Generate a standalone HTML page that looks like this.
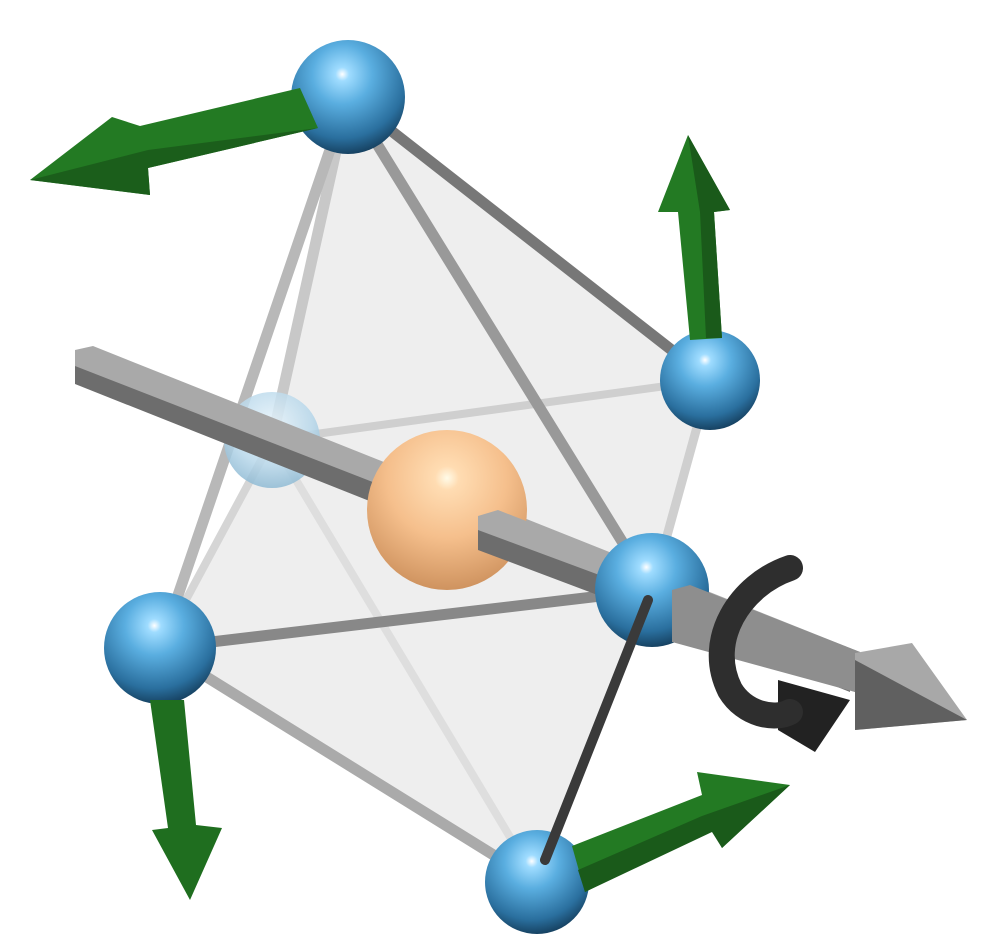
<!DOCTYPE html>
<html><head><meta charset="utf-8"><style>
html,body{margin:0;padding:0;background:#fff;}
svg{display:block}
</style></head><body>
<svg width="988" height="942" viewBox="0 0 988 942" xmlns="http://www.w3.org/2000/svg">
<defs>
<radialGradient id="blue" cx="0.45" cy="0.3" r="0.75">
<stop offset="0" stop-color="#ffffff"/><stop offset="0.08" stop-color="#9fdcff"/><stop offset="0.35" stop-color="#5aaee0"/><stop offset="0.75" stop-color="#2a6f9e"/><stop offset="1" stop-color="#10334e"/></radialGradient>
<radialGradient id="orange" cx="0.5" cy="0.3" r="0.75">
<stop offset="0" stop-color="#fffbe8"/><stop offset="0.1" stop-color="#ffdcb2"/><stop offset="0.5" stop-color="#f5bf8c"/><stop offset="1" stop-color="#c98c58"/></radialGradient>
<radialGradient id="fade" cx="0.5" cy="0.35" r="0.7">
<stop offset="0" stop-color="#e8f4fb"/><stop offset="0.6" stop-color="#b7d7ea"/><stop offset="1" stop-color="#86b4cf"/></radialGradient>
</defs>

<polygon points="348,97 710,380 652,590 537,882 160,648 272,440" fill="#ececec" opacity="0.9"/>

<g stroke-linecap="round">
<line x1="272" y1="440" x2="710" y2="380" stroke="#cfcfcf" stroke-width="8"/>
<line x1="272" y1="440" x2="537" y2="882" stroke="#dedede" stroke-width="8"/>
<line x1="272" y1="440" x2="160" y2="648" stroke="#d5d5d5" stroke-width="8"/>
<line x1="348" y1="97" x2="272" y2="440" stroke="#c8c8c8" stroke-width="11"/>
<line x1="348" y1="97" x2="160" y2="648" stroke="#b8b8b8" stroke-width="11"/>
<line x1="348" y1="97" x2="710" y2="380" stroke="#777" stroke-width="11"/>
<line x1="348" y1="97" x2="652" y2="590" stroke="#999" stroke-width="11"/>
<line x1="710" y1="380" x2="652" y2="590" stroke="#cfcfcf" stroke-width="9"/>
<line x1="160" y1="648" x2="652" y2="590" stroke="#888" stroke-width="11"/>
<line x1="160" y1="648" x2="537" y2="882" stroke="#aaa" stroke-width="11"/>
</g>

<circle cx="272" cy="440" r="48" fill="url(#fade)" opacity="0.85"/>

<g>
<polygon points="75,350 93,346 860,652 850,690 75,382" fill="#a9a9a9"/>
<polygon points="75,366 850,668 850,692 75,384" fill="#6d6d6d"/>
<circle cx="447" cy="510" r="80" fill="url(#orange)"/>
<polygon points="478,516 498,510 860,652 855,688 478,546" fill="#a9a9a9"/>
<polygon points="478,530 855,670 855,692 478,550" fill="#6d6d6d"/>
</g>

<circle cx="348" cy="97" r="57" fill="url(#blue)"/>
<circle cx="710" cy="380" r="50" fill="url(#blue)"/>
<circle cx="652" cy="590" r="57" fill="url(#blue)"/>
<polygon points="672,590 690,585 860,652 855,692 672,642" fill="#8e8e8e"/>
<polygon points="855,653 912,643 967,720 855,730" fill="#a8a8a8"/>
<polygon points="855,660 967,720 855,730" fill="#606060"/>
<circle cx="160" cy="648" r="56" fill="url(#blue)"/>
<circle cx="537" cy="882" r="52" fill="url(#blue)"/>
<line x1="648" y1="600" x2="545" y2="860" stroke="#3a3a3a" stroke-width="10" stroke-linecap="round"/>

<g>
<polygon points="778,680 850,700 815,752 778,730" fill="#222"/>
<path d="M790,568 C740,585 705,640 730,690 C745,715 775,720 790,712" fill="none" stroke="#2e2e2e" stroke-width="26" stroke-linecap="round"/>
</g>

<g>
<polygon points="300,88 318,128 148,168 150,195 30,180 112,117 140,126" fill="#237a23"/>
<polygon points="318,128 148,168 150,195 30,180 148,150" fill="#1b5e1b"/>
<polygon points="678,212 658,212 688,135 730,210 714,212 722,338 690,340" fill="#237a23"/>
<polygon points="688,135 730,210 714,212 722,338 706,338 700,212" fill="#1a5a1a"/>
<polygon points="150,700 184,700 196,825 222,828 190,900 152,830 168,828" fill="#1f6e1f"/>
<polygon points="572,846 702,795 697,772 790,785 722,848 712,828 585,892" fill="#237a23"/>
<polygon points="585,892 712,832 722,848 790,785 702,816 578,870" fill="#1a5a1a"/>
</g>
</svg>
</body></html>
